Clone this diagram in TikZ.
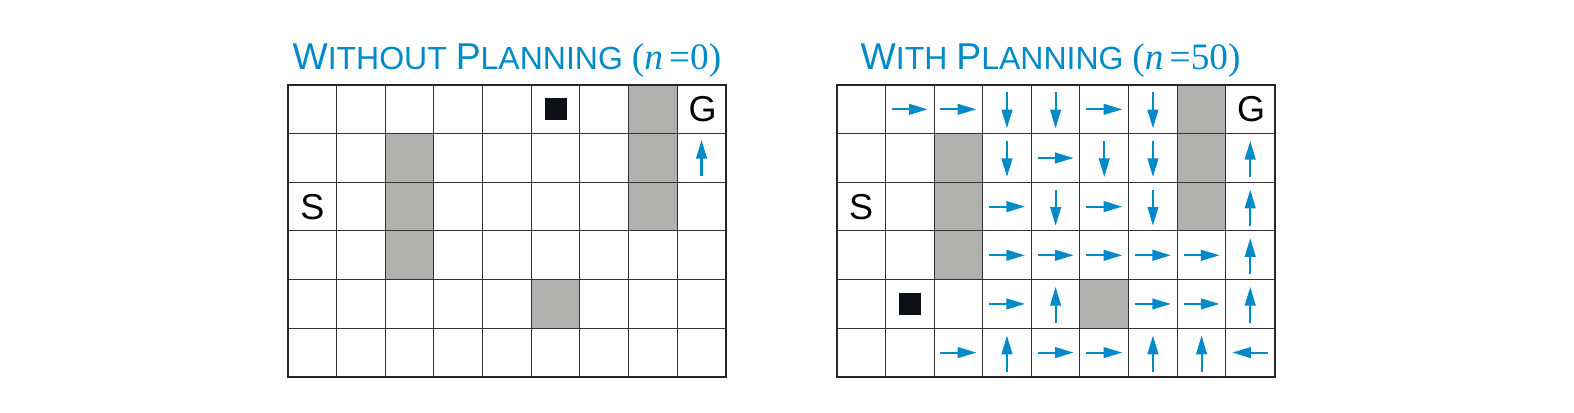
\documentclass[tikz,border=0pt]{standalone}
\usepackage{fontspec}
\setmainfont{Liberation Sans}
\newfontfamily\titleserif{Liberation Serif}
\usetikzlibrary{arrows.meta}

\definecolor{planblue}{RGB}{0,138,201}
\definecolor{wallgray}{RGB}{176,176,175}
\definecolor{gridline}{RGB}{50,50,50}
\definecolor{agentblack}{RGB}{12,16,20}

\newcommand{\cellsz}{48.65}
\newcommand{\tcap}[1]{{\fontsize{28}{30}\selectfont #1}}
\newcommand{\tsml}[1]{{\fontsize{24}{28}\selectfont #1}}

\tikzset{every picture/.style={line width=0.75pt}}
\tikzset{
  wall/.style={fill=wallgray, draw=none},
  cellline/.style={draw=gridline, line width=0.75pt},
  gridframe/.style={draw=black!85, line width=1.5pt},
  policy/.style={draw=planblue, line width=1.6pt, -{Triangle[length=14pt,width=8pt]}},
  cellmark/.style={anchor=center, inner sep=0pt, font=\fontsize{27}{30}\selectfont},
  agent/.style={fill=agentblack, draw=none, inner sep=0pt, minimum size=16.5pt},
  gridtitle/.style={anchor=base, inner sep=0pt, text=planblue, font=\fontsize{24}{28}\selectfont},
}

\begin{document}
\begin{tikzpicture}[x=0.75pt,y=0.75pt,yscale=-1,xscale=1]
\useasboundingbox (0,0) rectangle (1574,412);

% Left grid: without planning
\begin{scope}[shift={(288,85)}]
%Shape: Walls
\fill[wall] ({2*\cellsz},{1*\cellsz}) rectangle ++(\cellsz,{3*\cellsz});
\fill[wall] ({7*\cellsz},0) rectangle ++(\cellsz,{3*\cellsz});
\fill[wall] ({5*\cellsz},{4*\cellsz}) rectangle ++(\cellsz,\cellsz);
%Straight Lines
\foreach \k in {1,...,8}
  \draw[cellline] ({\k*\cellsz},0) -- ({\k*\cellsz},{6*\cellsz});
\foreach \k in {1,...,5}
  \draw[cellline] (0,{\k*\cellsz}) -- ({9*\cellsz},{\k*\cellsz});
\draw[gridframe] (0,0) rectangle ({9*\cellsz},{6*\cellsz});
% Text Node
\node[cellmark] (startL) at ({0.5*\cellsz},{2.5*\cellsz}) {S};
\node[cellmark] (goalL) at ({8.5*\cellsz+1},{0.5*\cellsz}) {G};
\node[agent] (agentL) at ({5.5*\cellsz},{0.5*\cellsz}) {};
% Policy
\draw[policy] ({8.5*\cellsz},{1.5*\cellsz+18}) -- ++(0,-36);
% Text Node
\node[gridtitle] (titleL) at ({4.5*\cellsz},-16) {\tcap{W}\tsml{ITHOUT} \tcap{P}\tsml{LANNING} \tcap{\titleserif(\textit{n}\,=0)}};
\end{scope}

% Right grid: with planning
\begin{scope}[shift={(836.7,85)}]
%Shape: Walls
\fill[wall] ({2*\cellsz},{1*\cellsz}) rectangle ++(\cellsz,{3*\cellsz});
\fill[wall] ({7*\cellsz},0) rectangle ++(\cellsz,{3*\cellsz});
\fill[wall] ({5*\cellsz},{4*\cellsz}) rectangle ++(\cellsz,\cellsz);
%Straight Lines
\foreach \k in {1,...,8}
  \draw[cellline] ({\k*\cellsz},0) -- ({\k*\cellsz},{6*\cellsz});
\foreach \k in {1,...,5}
  \draw[cellline] (0,{\k*\cellsz}) -- ({9*\cellsz},{\k*\cellsz});
\draw[gridframe] (0,0) rectangle ({9*\cellsz},{6*\cellsz});
% Text Node
\node[cellmark] (startR) at ({0.5*\cellsz},{2.5*\cellsz}) {S};
\node[cellmark] (goalR) at ({8.5*\cellsz+1},{0.5*\cellsz}) {G};
\node[agent] (agentR) at ({1.5*\cellsz},{4.5*\cellsz}) {};
% Policy: right, down, up, left
\foreach \i/\j in {2/1,3/1,6/1,5/2,4/3,6/3,4/4,5/4,6/4,7/4,8/4,4/5,7/5,8/5,3/6,5/6,6/6}
  \draw[policy] ({(\i-0.5)*\cellsz-18},{(\j-0.5)*\cellsz}) -- ++(36,0);
\foreach \i/\j in {4/1,5/1,7/1,4/2,6/2,7/2,5/3,7/3}
  \draw[policy] ({(\i-0.5)*\cellsz},{(\j-0.5)*\cellsz-17}) -- ++(0,36);
\foreach \i/\j in {9/2,9/3,9/4,5/5,9/5,4/6,7/6,8/6}
  \draw[policy] ({(\i-0.5)*\cellsz},{(\j-0.5)*\cellsz+19}) -- ++(0,-36);
\draw[policy] ({8.5*\cellsz+18},{5.5*\cellsz}) -- ++(-36,0);
% Text Node
\node[gridtitle] (titleR) at ({4.5*\cellsz-5},-16) {\tcap{W}\tsml{ITH} \tcap{P}\tsml{LANNING} \tcap{\titleserif(\textit{n}\,=50)}};
\end{scope}

\end{tikzpicture}
\end{document}
